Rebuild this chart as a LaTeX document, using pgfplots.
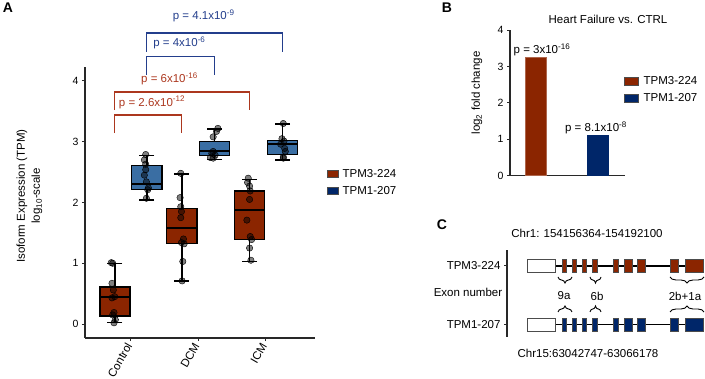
\documentclass[border=0pt]{standalone}
\usepackage{fontspec}
\setmainfont{Liberation Sans}
\usepackage{pgfplots}
\pgfplotsset{compat=1.18}
\usepgfplotslibrary{statistics}
\usetikzlibrary{decorations.pathreplacing}
\definecolor{tred}{RGB}{139,37,0}
\definecolor{tblueA}{RGB}{58,110,163}
\definecolor{tnavy}{RGB}{0,38,105}
\definecolor{bred}{RGB}{172,55,30}
\definecolor{bblue}{RGB}{35,62,140}
\definecolor{axgray}{RGB}{40,40,40}
\newcommand{\fs}{\fontsize{11.5}{13.5}\selectfont}
\newcommand{\fb}{\fontsize{14}{16}\selectfont\bfseries}
\pgfplotsset{
  myax/.style={scale only axis, axis x line*=bottom, axis y line*=left,
    axis line style={line width=1.4pt, axgray, -}, tick align=outside,
    major tick length=3pt, tick style={line width=1pt, axgray},
    /pgf/number format/assume math mode=true,
    ticklabel style={font=\fontsize{10.5}{12}\selectfont},
    clip=false, label style={font=\fs}},
  legsty/.style={draw=none, fill=none, font=\fs, inner sep=0pt, row sep=4pt,
    nodes={inner sep=1pt, text height=8.5pt, text depth=2.5pt}},
}
\newcommand{\bx}[7]{\addplot[boxplot prepared={draw position=#1, lower whisker=#2, lower quartile=#3, median=#4, upper quartile=#5, upper whisker=#6, box extend=0.445, whisker extend=0.22}, fill=#7, draw=black, line width=1.3pt] coordinates {};}
\newcommand{\exon}[5]{\addplot[fill=#5, draw=black!70, line width=0.6pt] coordinates {(#1,#3) (#2,#3) (#2,#4) (#1,#4)} -- cycle;}
\begin{document}
\begin{tikzpicture}
\useasboundingbox (0,0) rectangle (705pt,378pt);
% ---------------- Panel A ----------------
\begin{axis}[myax, at={(85pt,40pt)}, anchor=south west, width=230pt, height=271pt,
  xmin=0.32, xmax=3.73, ymin=-0.23, ymax=4.23,
  xtick={1,2,3}, xticklabels={Control,DCM,ICM},
  xticklabel style={rotate=60, anchor=east, font=\fs},
  ytick={0,1,2,3,4},
  boxplot/draw direction=y,
  boxplot/every median/.style={line width=2pt},
  legend entries={TPM3-224,TPM1-207},
  legend style={legsty, at={(1.052,0.629)}, anchor=north west,
    /tikz/every odd column/.append style={column sep=3pt}},
  legend cell align=left]
\addlegendimage{legend image code/.code={\draw[fill=tred, draw=black!70, line width=0.5pt] (0pt,-3.5pt) rectangle (11pt,3.5pt);}}
\addlegendimage{legend image code/.code={\draw[fill=tnavy, draw=black!70, line width=0.5pt] (0pt,-3.5pt) rectangle (11pt,3.5pt);}}
\bx{0.763}{0.02}{0.13}{0.45}{0.61}{1.00}{tred}
\bx{1.237}{2.04}{2.21}{2.30}{2.61}{2.77}{tblueA}
\bx{1.756}{0.71}{1.33}{1.58}{1.90}{2.47}{tred}
\bx{2.244}{2.71}{2.77}{2.84}{3.00}{3.21}{tblueA}
\bx{2.763}{1.03}{1.39}{1.88}{2.19}{2.38}{tred}
\bx{3.250}{2.70}{2.79}{2.96}{3.02}{3.29}{tblueA}
\addplot[only marks, mark=*, mark size=3.2pt, mark options={draw=none, fill=black, fill opacity=0.5}] coordinates {
 (0.71,1.01) (0.73,1.00) (0.72,0.67) (0.74,0.56) (0.76,0.45) (0.72,0.43) (0.75,0.19) (0.73,0.15) (0.77,0.07) (0.75,0.02)
 (1.22,2.79) (1.20,2.70) (1.22,2.63) (1.22,2.54) (1.20,2.45) (1.23,2.34) (1.26,2.24) (1.25,2.21) (1.23,2.07)
 (1.74,2.48) (1.73,2.08) (1.74,1.93) (1.75,1.85) (1.74,1.75) (1.78,1.40) (1.75,1.34) (1.79,1.32) (1.77,1.03) (1.76,0.71)
 (2.27,3.17) (2.22,3.08) (2.22,2.84) (2.20,2.81) (2.25,2.78) (2.18,2.74) (2.22,2.73) (2.29,3.22)
 (2.74,2.40) (2.73,2.33) (2.76,2.27) (2.77,2.19) (2.76,2.05) (2.72,1.71) (2.77,1.44) (2.79,1.39) (2.76,1.25) (2.78,1.05)
 (3.26,3.30) (3.24,3.05) (3.27,3.01) (3.28,2.89) (3.29,2.84) (3.26,2.75) (3.26,2.73) (3.22,2.96)
};
% significance brackets
\addplot[bred, line width=1.2pt] coordinates {(0.763,3.14) (0.763,3.44) (1.756,3.44) (1.756,3.14)};
\addplot[bred, line width=1.2pt] coordinates {(0.763,3.52) (0.763,3.82) (2.763,3.82) (2.763,3.52)};
\addplot[bblue, line width=1.2pt] coordinates {(1.237,4.10) (1.237,4.40) (2.244,4.40) (2.244,4.10)};
\addplot[bblue, line width=1.2pt] coordinates {(1.237,4.48) (1.237,4.79) (3.250,4.79) (3.250,4.48)};
\node[anchor=west, font=\fs, text=bred, inner sep=0pt] at (axis cs:0.82,3.65) {p = 2.6x10\textsuperscript{-12}};
\node[anchor=west, font=\fs, text=bred, inner sep=0pt] at (axis cs:1.15,4.03) {p = 6x10\textsuperscript{-16}};
\node[anchor=west, font=\fs, text=bblue, inner sep=0pt] at (axis cs:1.33,4.63) {p = 4x10\textsuperscript{-6}};
\node[font=\fs, text=bblue, inner sep=0pt] at (axis cs:2.08,5.07) {p = 4.1x10\textsuperscript{-9}};
\end{axis}
\node[rotate=90, font=\fs] at (22pt,182pt) {Isoform Expression (TPM)};
\node[rotate=90, font=\fs] at (37pt,182pt) {log\textsubscript{10}-scale};
\node[font=\fb] at (8pt,370pt) {A};
% ---------------- Panel B ----------------
\begin{axis}[myax, at={(510pt,202.3pt)}, anchor=south west, width=115pt, height=145.7pt,
  xmin=0, xmax=115, ymin=0, ymax=4, xtick=\empty, ytick={0,1,2,3,4},
  legend entries={TPM3-224,TPM1-207},
  legend style={legsty, at={(0.991,0.695)}, anchor=north west,
    /tikz/every odd column/.append style={column sep=4pt}},
  legend cell align=left]
\addlegendimage{legend image code/.code={\draw[fill=tred, draw=black!70, line width=0.5pt] (0pt,-4pt) rectangle (14pt,4pt);}}
\addlegendimage{legend image code/.code={\draw[fill=tnavy, draw=black!70, line width=0.5pt] (0pt,-4pt) rectangle (14pt,4pt);}}
\addplot[ybar, bar width=21pt, bar shift=0pt, fill=tred, draw=tred!70!white] coordinates {(25.5,3.25)};
\addplot[ybar, bar width=21pt, bar shift=0pt, fill=tnavy, draw=tnavy] coordinates {(88,1.12)};
\node[font=\fs, inner sep=0pt] at (axis cs:32,3.45) {p = 3x10\textsuperscript{-16}};
\node[font=\fs, inner sep=0pt] at (axis cs:86,1.31) {p = 8.1x10\textsuperscript{-8}};
\end{axis}
\node[font=\fs] at (608pt,359pt) {Heart Failure vs. CTRL};
\node[rotate=90, font=\fs] at (477pt,285pt) {log\textsubscript{2} fold change};
\node[font=\fb] at (447pt,370pt) {B};
% ---------------- Panel C ----------------
\begin{axis}[scale only axis, at={(507pt,41.3pt)}, anchor=south west, width=198pt, height=86.7pt,
  xmin=507, xmax=705, ymin=41.3, ymax=128, clip=false,
  axis x line=none, axis y line*=left,
  axis line style={line width=1.4pt, axgray, -}, tick align=outside,
  major tick length=3pt, tick style={line width=1pt, axgray},
  ytick={112,53.5}, yticklabels={TPM3-224,TPM1-207},
  yticklabel style={font=\fs}]
\addplot[black, line width=1.1pt] coordinates {(555,112) (703,112)};
\addplot[black, line width=1.1pt] coordinates {(555,53.5) (703,53.5)};
\exon{527}{555}{105.5}{118.5}{white}
\exon{562.3}{566.7}{105.5}{118.5}{tred}
\exon{572.7}{576.7}{105.5}{118.5}{tred}
\exon{582.7}{586.7}{105.5}{118.5}{tred}
\exon{592.7}{597.3}{105.5}{118.5}{tred}
\exon{613.3}{618.3}{105.5}{118.5}{tred}
\exon{624}{632}{105.5}{118.5}{tred}
\exon{637.3}{645.3}{105.5}{118.5}{tred}
\exon{670.7}{678.7}{105.5}{118.5}{tred}
\exon{685}{703.3}{105.5}{118.5}{tred}
\exon{527}{555}{47}{60}{white}
\exon{562.3}{566.7}{47}{60}{tnavy}
\exon{572.7}{576.7}{47}{60}{tnavy}
\exon{582.7}{586.7}{47}{60}{tnavy}
\exon{592.7}{597.3}{47}{60}{tnavy}
\exon{613.3}{618.3}{47}{60}{tnavy}
\exon{624}{632}{47}{60}{tnavy}
\exon{637.3}{645.3}{47}{60}{tnavy}
\exon{670.7}{678.7}{47}{60}{tnavy}
\exon{685}{703.3}{47}{60}{tnavy}
\draw[decorate, decoration={brace, amplitude=6pt, mirror}, line width=0.9pt] (axis cs:558,101) -- (axis cs:572,101);
\draw[decorate, decoration={brace, amplitude=6pt, mirror}, line width=0.9pt] (axis cs:590,101) -- (axis cs:601,101);
\draw[decorate, decoration={brace, amplitude=6pt, mirror}, line width=0.9pt] (axis cs:670,101) -- (axis cs:704,101);
\draw[decorate, decoration={brace, amplitude=6pt}, line width=0.9pt] (axis cs:558,66) -- (axis cs:572,66);
\draw[decorate, decoration={brace, amplitude=6pt}, line width=0.9pt] (axis cs:590,66) -- (axis cs:601,66);
\draw[decorate, decoration={brace, amplitude=6pt}, line width=0.9pt] (axis cs:670,66) -- (axis cs:704,66);
\node[font=\fs] at (axis cs:564,82) {9a};
\node[font=\fs] at (axis cs:597,82) {6b};
\node[font=\fs] at (axis cs:685,82) {2b+1a};
\end{axis}
\node[font=\fs] at (468pt,85.7pt) {Exon number};
\node[font=\fs] at (587pt,145pt) {Chr1: 154156364-154192100};
\node[font=\fs] at (588pt,25pt) {Chr15:63042747-63066178};
\node[font=\fb] at (442pt,153pt) {C};
\end{tikzpicture}
\end{document}
